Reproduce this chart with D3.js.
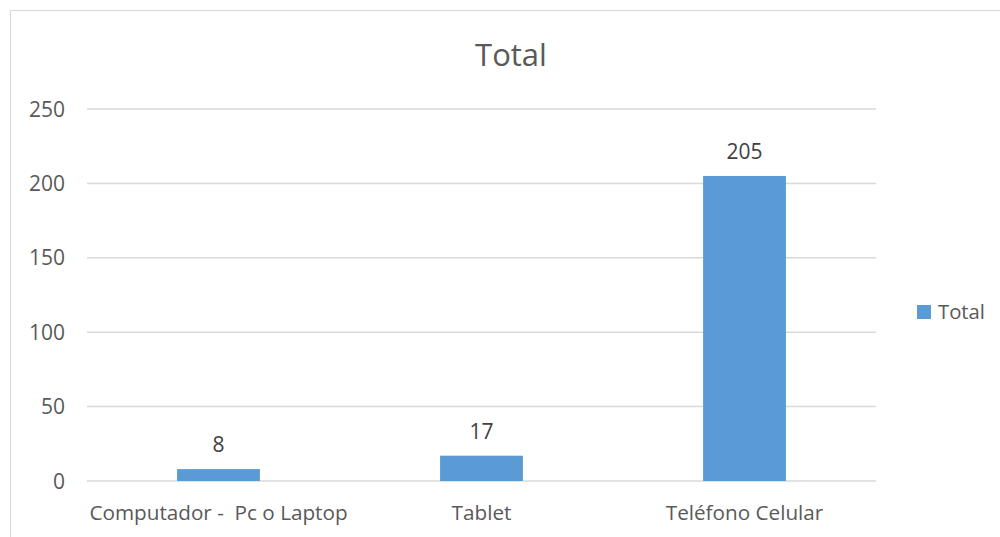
<!DOCTYPE html>
<html>
<head>
<meta charset="utf-8">
<script src="https://cdn.jsdelivr.net/npm/d3@7"></script>
<style>
  body { margin: 0; background: #fff; }
  text { font-family: "Open Sans", sans-serif; fill: #595959; }
</style>
</head>
<body>
<div id="chart"></div>
<script>
const categories = ["Computador -  Pc o Laptop", "Tablet", "Teléfono Celular"];
const values = [8, 17, 205];
const yTicks = [0, 50, 100, 150, 200, 250];
const seriesName = "Total";

const width = 1000, height = 537;
const plot = {left: 87, right: 876, top: 109, bottom: 481};

const svg = d3.select("#chart").append("svg")
  .attr("width", width)
  .attr("height", height);

// chart frame (only top/left visible in the crop)
svg.append("rect")
  .attr("x", 10.5).attr("y", 10.5)
  .attr("width", width + 20).attr("height", height + 20)
  .attr("fill", "#fff")
  .attr("stroke", "#d9d9d9");

const x = d3.scaleBand()
  .domain(categories)
  .range([plot.left, plot.right])
  .paddingInner(0.685)
  .paddingOuter(0.3425);

const y = d3.scaleLinear()
  .domain([0, 250])
  .range([plot.bottom, plot.top]);

// gridlines
svg.append("g").selectAll("line")
  .data(yTicks)
  .enter().append("line")
  .attr("x1", plot.left).attr("x2", plot.right)
  .attr("y1", d => y(d)).attr("y2", d => y(d))
  .attr("stroke", "#d9d9d9")
  .attr("stroke-width", 1.5);

// y axis labels
svg.append("g").selectAll("text")
  .data(yTicks)
  .enter().append("text")
  .attr("x", 65)
  .attr("y", d => y(d))
  .attr("dy", "0.36em")
  .attr("text-anchor", "end")
  .style("font-size", "21px")
  .text(d => d);

// bars
svg.append("g").selectAll("rect")
  .data(values)
  .enter().append("rect")
  .attr("x", (d, i) => x(categories[i]))
  .attr("width", x.bandwidth())
  .attr("y", d => y(d))
  .attr("height", d => y(0) - y(d))
  .attr("fill", "#5b9bd5");

// data labels
svg.append("g").selectAll("text")
  .data(values)
  .enter().append("text")
  .attr("x", (d, i) => x(categories[i]) + x.bandwidth() / 2)
  .attr("y", d => y(d) - 17)
  .attr("text-anchor", "middle")
  .style("font-size", "21px")
  .style("fill", "#404040")
  .text(d => d);

// category labels
svg.append("g").selectAll("text")
  .data(categories)
  .enter().append("text")
  .attr("x", d => x(d) + x.bandwidth() / 2)
  .attr("y", 520)
  .attr("text-anchor", "middle")
  .style("font-size", "20.7px")
  .style("white-space", "pre")
  .attr("xml:space", "preserve")
  .text(d => d);

// title
svg.append("text")
  .attr("x", 511)
  .attr("y", 66)
  .attr("text-anchor", "middle")
  .style("font-size", "31px")
  .text(seriesName);

// legend
const legend = svg.append("g");
legend.append("rect")
  .attr("x", 917).attr("y", 305)
  .attr("width", 14).attr("height", 14)
  .attr("fill", "#5b9bd5");
legend.append("text")
  .attr("x", 938).attr("y", 319)
  .style("font-size", "20.3px")
  .text(seriesName);
</script>
</body>
</html>
